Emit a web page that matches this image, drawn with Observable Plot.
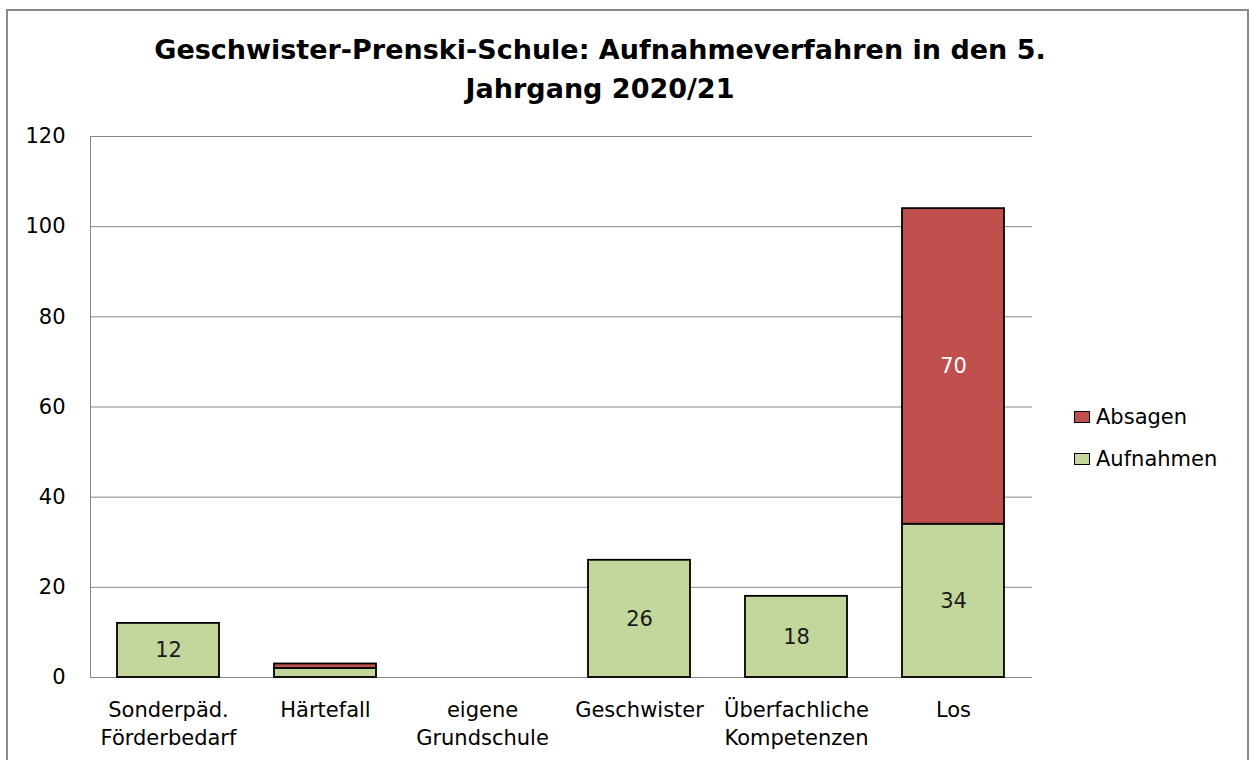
<!DOCTYPE html>
<html><head><meta charset="utf-8">
<script src="https://cdn.jsdelivr.net/npm/d3@7"></script>
<script src="https://cdn.jsdelivr.net/npm/@observablehq/plot@0.6"></script>
<style>
body{margin:0;background:#fff;}
#wrap{position:relative;width:1249px;height:760px;overflow:hidden;font-family:"DejaVu Sans",sans-serif;background:#fff;}
#frame{position:absolute;left:6px;top:9px;width:1239px;height:800px;border:2px solid #8a8a8a;}
#title{position:absolute;left:0;top:30px;width:1200px;text-align:center;font-weight:bold;font-size:27px;line-height:39px;color:#000;}
#chart{position:absolute;left:0;top:110px;}
#legend{position:absolute;left:1074px;top:396px;}
.item{display:flex;align-items:center;height:42px;font-size:21px;color:#000;}
.sw{width:16px;height:12px;box-sizing:border-box;border:1.5px solid #000;margin-right:6px;}
</style></head>
<body>
<div id="wrap">
  <div id="frame"></div>
  <div id="title">Geschwister-Prenski-Schule: Aufnahmeverfahren in den 5.<br>Jahrgang 2020/21</div>
  <div id="chart"></div>
  <div id="legend"></div>
</div>
<script>
const categories = ["Sonderpäd.\nFörderbedarf", "Härtefall", "eigene\nGrundschule", "Geschwister", "Überfachliche\nKompetenzen", "Los"];
const aufnahmen = [12, 2, 0, 26, 18, 34];
const absagen = [0, 1, 0, 0, 0, 70];
const series = ["Aufnahmen", "Absagen"];
const colors = ["#C3D69B", "#C0504D"];
const yTicks = [0, 20, 40, 60, 80, 100, 120];

const rows = categories.flatMap((c, i) => [
  {cat: c, series: "Aufnahmen", value: aufnahmen[i]},
  {cat: c, series: "Absagen", value: absagen[i]}
]).filter(d => d.value > 0);

const chart = Plot.plot({
  width: 1045, height: 650,
  marginLeft: 90, marginRight: 13, marginTop: 26, marginBottom: 83,
  style: {fontFamily: "DejaVu Sans", fontSize: "21px", color: "#000", background: "transparent"},
  x: {domain: categories, paddingInner: 0.35, paddingOuter: 0.175, label: null},
  y: {domain: [0, 120], label: null},
  color: {domain: series, range: colors},
  marks: [
    Plot.ruleY(yTicks, {stroke: "#878787", strokeWidth: 1}),
    Plot.frame({anchor: "left", stroke: "#878787"}),
    Plot.barY(rows, {x: "cat", y: "value", fill: "series", z: "series", stroke: "#000", strokeWidth: 1.8}),
    Plot.text(rows, Plot.stackY({x: "cat", y: "value", z: "series",
      text: d => d.series === "Aufnahmen" && d.value >= 5 ? String(d.value) : null,
      fill: "#1a1a1a", fontSize: 21})),
    Plot.text(rows, Plot.stackY({x: "cat", y: "value", z: "series",
      text: d => d.series === "Absagen" && d.value >= 5 ? String(d.value) : null,
      fill: "#ffffff", fontSize: 21})),
    Plot.axisY({ticks: yTicks, tickSize: 0, tickPadding: 25, fontSize: 21, label: null}),
    Plot.axisX({tickSize: 0, tickPadding: 19, fontSize: 21, lineHeight: 1.36, label: null})
  ]
});
document.getElementById("chart").appendChild(chart);

const legend = document.getElementById("legend");
[...series].reverse().forEach(s => {
  const item = document.createElement("div");
  item.className = "item";
  const sw = document.createElement("div");
  sw.className = "sw";
  sw.style.background = colors[series.indexOf(s)];
  item.appendChild(sw);
  item.appendChild(document.createTextNode(s));
  legend.appendChild(item);
});
</script>
</body></html>
